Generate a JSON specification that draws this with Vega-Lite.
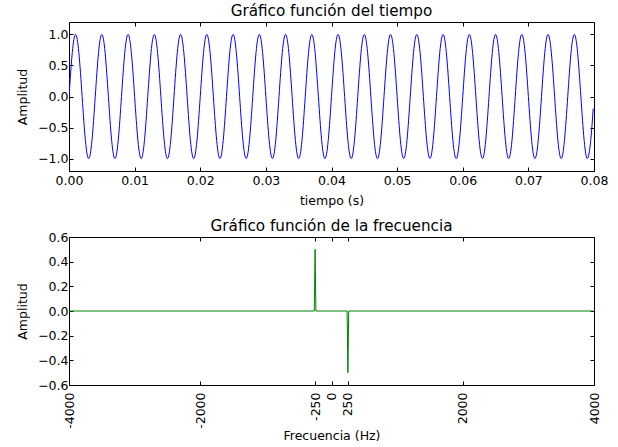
{
  "$schema": "https://vega.github.io/schema/vega-lite/v6.json",
  "padding": {"left": 16, "top": 3, "right": 5, "bottom": 5},
  "autosize": {"type": "pad"},
  "background": "white",
  "config": {
    "font": "DejaVu Sans",
    "view": {"stroke": "black", "strokeWidth": 1},
    "axis": {
      "domain": false, "grid": false, "tickColor": "black", "tickSize": -4,
      "labelFont": "DejaVu Sans", "labelFontSize": 12.5, "labelColor": "black",
      "labelFlush": false, "labelOverlap": false, "labelBound": false, "labelPadding": 5,
      "titleFont": "DejaVu Sans", "titleFontSize": 12.5, "titleFontWeight": "normal", "titleColor": "black"
    },
    "title": {"font": "DejaVu Sans", "fontSize": 15.2, "fontWeight": "normal", "color": "black", "offset": 4}
  },
  "bounds": "flush",
  "spacing": 66,
  "vconcat": [
    {
      "title": {"text": "Gráfico función del tiempo", "offset": 2},
      "width": 525, "height": 149,
      "data": {"values": [
        {"t":0,"a":0},{"t":0.0005,"a":0.7071},{"t":0.001,"a":1},{"t":0.0015,"a":0.7071},{"t":0.002,"a":0},{"t":0.0025,"a":-0.7071},{"t":0.003,"a":-1},{"t":0.0035,"a":-0.7071},
        {"t":0.004,"a":0},{"t":0.0045,"a":0.7071},{"t":0.005,"a":1},{"t":0.0055,"a":0.7071},{"t":0.006,"a":0},{"t":0.0065,"a":-0.7071},{"t":0.007,"a":-1},{"t":0.0075,"a":-0.7071},
        {"t":0.008,"a":0},{"t":0.0085,"a":0.7071},{"t":0.009,"a":1},{"t":0.0095,"a":0.7071},{"t":0.01,"a":0},{"t":0.0105,"a":-0.7071},{"t":0.011,"a":-1},{"t":0.0115,"a":-0.7071},
        {"t":0.012,"a":0},{"t":0.0125,"a":0.7071},{"t":0.013,"a":1},{"t":0.0135,"a":0.7071},{"t":0.014,"a":0},{"t":0.0145,"a":-0.7071},{"t":0.015,"a":-1},{"t":0.0155,"a":-0.7071},
        {"t":0.016,"a":0},{"t":0.0165,"a":0.7071},{"t":0.017,"a":1},{"t":0.0175,"a":0.7071},{"t":0.018,"a":0},{"t":0.0185,"a":-0.7071},{"t":0.019,"a":-1},{"t":0.0195,"a":-0.7071},
        {"t":0.02,"a":0},{"t":0.0205,"a":0.7071},{"t":0.021,"a":1},{"t":0.0215,"a":0.7071},{"t":0.022,"a":0},{"t":0.0225,"a":-0.7071},{"t":0.023,"a":-1},{"t":0.0235,"a":-0.7071},
        {"t":0.024,"a":0},{"t":0.0245,"a":0.7071},{"t":0.025,"a":1},{"t":0.0255,"a":0.7071},{"t":0.026,"a":0},{"t":0.0265,"a":-0.7071},{"t":0.027,"a":-1},{"t":0.0275,"a":-0.7071},
        {"t":0.028,"a":0},{"t":0.0285,"a":0.7071},{"t":0.029,"a":1},{"t":0.0295,"a":0.7071},{"t":0.03,"a":0},{"t":0.0305,"a":-0.7071},{"t":0.031,"a":-1},{"t":0.0315,"a":-0.7071},
        {"t":0.032,"a":0},{"t":0.0325,"a":0.7071},{"t":0.033,"a":1},{"t":0.0335,"a":0.7071},{"t":0.034,"a":0},{"t":0.0345,"a":-0.7071},{"t":0.035,"a":-1},{"t":0.0355,"a":-0.7071},
        {"t":0.036,"a":0},{"t":0.0365,"a":0.7071},{"t":0.037,"a":1},{"t":0.0375,"a":0.7071},{"t":0.038,"a":0},{"t":0.0385,"a":-0.7071},{"t":0.039,"a":-1},{"t":0.0395,"a":-0.7071},
        {"t":0.04,"a":0},{"t":0.0405,"a":0.7071},{"t":0.041,"a":1},{"t":0.0415,"a":0.7071},{"t":0.042,"a":0},{"t":0.0425,"a":-0.7071},{"t":0.043,"a":-1},{"t":0.0435,"a":-0.7071},
        {"t":0.044,"a":0},{"t":0.0445,"a":0.7071},{"t":0.045,"a":1},{"t":0.0455,"a":0.7071},{"t":0.046,"a":0},{"t":0.0465,"a":-0.7071},{"t":0.047,"a":-1},{"t":0.0475,"a":-0.7071},
        {"t":0.048,"a":0},{"t":0.0485,"a":0.7071},{"t":0.049,"a":1},{"t":0.0495,"a":0.7071},{"t":0.05,"a":0},{"t":0.0505,"a":-0.7071},{"t":0.051,"a":-1},{"t":0.0515,"a":-0.7071},
        {"t":0.052,"a":0},{"t":0.0525,"a":0.7071},{"t":0.053,"a":1},{"t":0.0535,"a":0.7071},{"t":0.054,"a":0},{"t":0.0545,"a":-0.7071},{"t":0.055,"a":-1},{"t":0.0555,"a":-0.7071},
        {"t":0.056,"a":0},{"t":0.0565,"a":0.7071},{"t":0.057,"a":1},{"t":0.0575,"a":0.7071},{"t":0.058,"a":0},{"t":0.0585,"a":-0.7071},{"t":0.059,"a":-1},{"t":0.0595,"a":-0.7071},
        {"t":0.06,"a":0},{"t":0.0605,"a":0.7071},{"t":0.061,"a":1},{"t":0.0615,"a":0.7071},{"t":0.062,"a":0},{"t":0.0625,"a":-0.7071},{"t":0.063,"a":-1},{"t":0.0635,"a":-0.7071},
        {"t":0.064,"a":0},{"t":0.0645,"a":0.7071},{"t":0.065,"a":1},{"t":0.0655,"a":0.7071},{"t":0.066,"a":0},{"t":0.0665,"a":-0.7071},{"t":0.067,"a":-1},{"t":0.0675,"a":-0.7071},
        {"t":0.068,"a":0},{"t":0.0685,"a":0.7071},{"t":0.069,"a":1},{"t":0.0695,"a":0.7071},{"t":0.07,"a":0},{"t":0.0705,"a":-0.7071},{"t":0.071,"a":-1},{"t":0.0715,"a":-0.7071},
        {"t":0.072,"a":0},{"t":0.0725,"a":0.7071},{"t":0.073,"a":1},{"t":0.0735,"a":0.7071},{"t":0.074,"a":0},{"t":0.0745,"a":-0.7071},{"t":0.075,"a":-1},{"t":0.0755,"a":-0.7071},
        {"t":0.076,"a":0},{"t":0.0765,"a":0.7071},{"t":0.077,"a":1},{"t":0.0775,"a":0.7071},{"t":0.078,"a":0},{"t":0.0785,"a":-0.7071},{"t":0.079,"a":-1},{"t":0.0795,"a":-0.7071},
        {"t":0.079875,"a":-0.195}
      ]},
      "layer": [
        {
          "mark": {"type": "line", "color": "#0000ff", "strokeWidth": 1, "interpolate": "natural", "clip": true},
          "encoding": {
            "x": {"field": "t", "type": "quantitative", "scale": {"domain": [0, 0.08], "nice": false},
              "axis": {"values": [0, 0.01, 0.02, 0.03, 0.04, 0.05, 0.06, 0.07, 0.08], "format": ".2f", "title": "tiempo (s)", "labelPadding": 7, "titlePadding": 8}},
            "y": {"field": "a", "type": "quantitative", "scale": {"domain": [-1.2, 1.2], "nice": false, "zero": false},
              "axis": {"values": [-1, -0.5, 0, 0.5, 1], "format": ".1f", "title": "Amplitud", "titlePadding": 8}}
          }
        },
        {
          "mark": {"type": "line", "strokeOpacity": 0},
          "encoding": {
            "x": {"field": "t", "type": "quantitative", "axis": {"orient": "top", "values": [0, 0.01, 0.02, 0.03, 0.04, 0.05, 0.06, 0.07, 0.08], "labels": false, "title": null}},
            "y": {"field": "a", "type": "quantitative", "axis": {"orient": "right", "values": [-1, -0.5, 0, 0.5, 1], "labels": false, "title": null}}
          }
        }
      ],
      "resolve": {"axis": {"x": "independent", "y": "independent"}}
    },
    {
      "title": {"text": "Gráfico función de la frecuencia", "offset": -3},
      "width": 525, "height": 148,
      "data": {"values": [
        {"f": -4000, "a": 0}, {"f": -262.5, "a": 0}, {"f": -250, "a": 0.5}, {"f": -237.5, "a": 0},
        {"f": 237.5, "a": 0}, {"f": 250, "a": -0.5}, {"f": 262.5, "a": 0}, {"f": 3987.5, "a": 0}
      ]},
      "layer": [
        {
          "mark": {"type": "line", "color": "#008000", "strokeWidth": 1},
          "encoding": {
            "x": {"field": "f", "type": "quantitative", "scale": {"domain": [-4000, 4000], "nice": false},
              "axis": {"values": [-4000, -2000, -250, 0, 250, 2000, 4000], "format": "d", "labelAngle": -90, "labelExpr": "replace(datum.label, '−', '-')", "title": "Frecuencia (Hz)", "labelPadding": 11, "titlePadding": 1}},
            "y": {"field": "a", "type": "quantitative", "scale": {"domain": [-0.6, 0.6], "nice": false, "zero": false},
              "axis": {"values": [-0.6, -0.4, -0.2, 0, 0.2, 0.4, 0.6], "format": ".1f", "title": "Amplitud", "titlePadding": 8}}
          }
        },
        {
          "mark": {"type": "line", "strokeOpacity": 0},
          "encoding": {
            "x": {"field": "f", "type": "quantitative", "axis": {"orient": "top", "values": [-4000, -2000, -250, 0, 250, 2000, 4000], "labels": false, "title": null}},
            "y": {"field": "a", "type": "quantitative", "axis": {"orient": "right", "values": [-0.6, -0.4, -0.2, 0, 0.2, 0.4, 0.6], "labels": false, "title": null}}
          }
        }
      ],
      "resolve": {"axis": {"x": "independent", "y": "independent"}}
    }
  ]
}
